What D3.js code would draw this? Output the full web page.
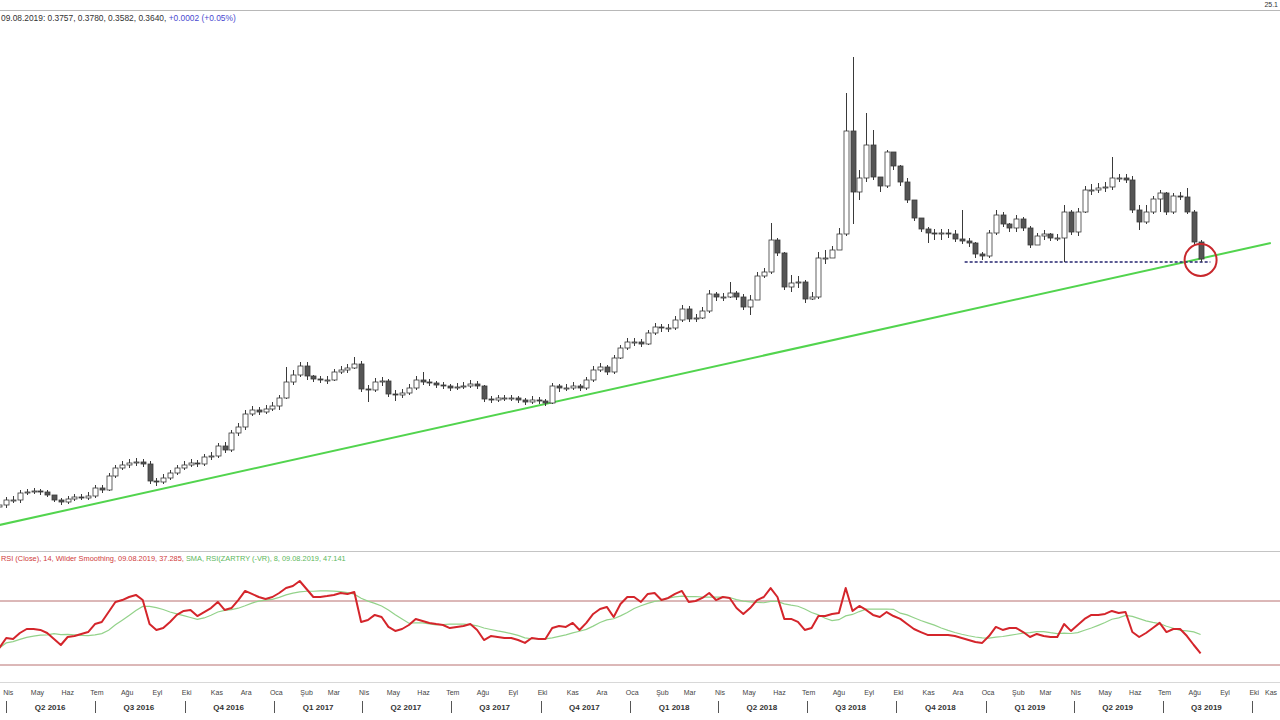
<!DOCTYPE html>
<html>
<head>
<meta charset="utf-8">
<script src="https://cdn.jsdelivr.net/npm/d3@7"></script>
<style>
  body { margin: 0; background: #fff; }
  svg { display: block; font-family: "Liberation Sans", Arial, sans-serif; }
</style>
</head>
<body>
<svg id="chart" width="1280" height="720"></svg>
<script>
// weekly candles, Friday dates starting 25.03.2016
const startDate = new Date(2016, 2, 25);
const firstOpen = 0.2465;

const closes = [
  0.2475, 0.2500, 0.2500, 0.2535, 0.2540, 0.2545, 0.2540, 0.2525, 0.2500, 0.2490,
  0.2505, 0.2515, 0.2510, 0.2520, 0.2560, 0.2550, 0.2620, 0.2660, 0.2675, 0.2685,
  0.2690, 0.2680, 0.2595, 0.2590, 0.2610, 0.2635, 0.2660, 0.2675, 0.2685, 0.2680,
  0.2715, 0.2720, 0.2770, 0.2750, 0.2835, 0.2865, 0.2930, 0.2950, 0.2940, 0.2955,
  0.2970, 0.3010, 0.3090, 0.3125, 0.3170, 0.3120, 0.3105, 0.3100, 0.3100, 0.3140,
  0.3150, 0.3160, 0.3180, 0.3055, 0.3050, 0.3090, 0.3095, 0.3030, 0.3025, 0.3035,
  0.3060, 0.3100, 0.3090, 0.3085, 0.3075, 0.3070, 0.3060, 0.3065, 0.3070, 0.3080,
  0.3070, 0.3005, 0.3000, 0.3010, 0.3010, 0.3010, 0.3000, 0.2990, 0.3000, 0.2995,
  0.2985, 0.3070, 0.3060, 0.3060, 0.3070, 0.3060, 0.3100, 0.3150, 0.3165, 0.3140,
  0.3210, 0.3260, 0.3290, 0.3290, 0.3280, 0.3335, 0.3365, 0.3360, 0.3360, 0.3400,
  0.3455, 0.3405, 0.3410, 0.3445, 0.3530, 0.3515, 0.3515, 0.3535, 0.3515, 0.3465,
  0.3500, 0.3620, 0.3640, 0.3800, 0.3735, 0.3565, 0.3585, 0.3590, 0.3505, 0.3515,
  0.3710, 0.3710, 0.3750, 0.3830, 0.4345, 0.4040, 0.4110, 0.4275, 0.4115, 0.4070,
  0.4240, 0.4170, 0.4090, 0.4000, 0.3910, 0.3855, 0.3835, 0.3830, 0.3835, 0.3830,
  0.3805, 0.3795, 0.3785, 0.3730, 0.3720, 0.3835, 0.3925, 0.3880, 0.3860, 0.3905,
  0.3860, 0.3775, 0.3820, 0.3830, 0.3810, 0.3810, 0.3940, 0.3840, 0.3940, 0.4050,
  0.4050, 0.4060, 0.4065, 0.4110, 0.4110, 0.4100, 0.3950, 0.3890, 0.3940, 0.4005,
  0.4035, 0.3940, 0.4020, 0.4015, 0.3940, 0.3790, 0.3705
];

const highs = [
  0.2500, 0.2515, 0.2520, 0.2550, 0.2555, 0.2560, 0.2555, 0.2550, 0.2525, 0.2510,
  0.2520, 0.2530, 0.2530, 0.2540, 0.2575, 0.2575, 0.2635, 0.2675, 0.2695, 0.2705,
  0.2710, 0.2705, 0.2695, 0.2610, 0.2630, 0.2650, 0.2675, 0.2695, 0.2705, 0.2700,
  0.2730, 0.2740, 0.2785, 0.2790, 0.2850, 0.2885, 0.2950, 0.2970, 0.2965, 0.2975,
  0.2990, 0.3025, 0.3165, 0.3150, 0.3190, 0.3190, 0.3125, 0.3120, 0.3120, 0.3155,
  0.3170, 0.3180, 0.3215, 0.3195, 0.3075, 0.3110, 0.3115, 0.3105, 0.3050, 0.3055,
  0.3080, 0.3120, 0.3140, 0.3105, 0.3095, 0.3090, 0.3080, 0.3085, 0.3090, 0.3100,
  0.3095, 0.3075, 0.3020, 0.3025, 0.3025, 0.3025, 0.3020, 0.3010, 0.3020, 0.3015,
  0.3005, 0.3085, 0.3080, 0.3080, 0.3090, 0.3080, 0.3115, 0.3170, 0.3185, 0.3175,
  0.3225, 0.3275, 0.3310, 0.3310, 0.3305, 0.3350, 0.3385, 0.3380, 0.3380, 0.3420,
  0.3475, 0.3470, 0.3430, 0.3465, 0.3550, 0.3540, 0.3535, 0.3590, 0.3545, 0.3530,
  0.3525, 0.3640, 0.3660, 0.3885, 0.3810, 0.3740, 0.3625, 0.3620, 0.3600, 0.3540,
  0.3740, 0.3750, 0.3770, 0.3860, 0.4535, 0.4715, 0.4150, 0.4435, 0.4350, 0.4100,
  0.4250, 0.4220, 0.4175, 0.4110, 0.4000, 0.3910, 0.3865, 0.3855, 0.3855, 0.3855,
  0.3850, 0.3950, 0.3810, 0.3790, 0.3740, 0.3850, 0.3950, 0.3940, 0.3885, 0.3925,
  0.3915, 0.3870, 0.3835, 0.3850, 0.3835, 0.3830, 0.3975, 0.3950, 0.3960, 0.4070,
  0.4080, 0.4085, 0.4090, 0.4215, 0.4130, 0.4130, 0.4120, 0.3975, 0.3975, 0.4020,
  0.4050, 0.4040, 0.4035, 0.4040, 0.4060, 0.3950, 0.3800
];

const lows = [
  0.2455, 0.2460, 0.2485, 0.2485, 0.2525, 0.2530, 0.2525, 0.2515, 0.2490, 0.2475,
  0.2480, 0.2495, 0.2500, 0.2500, 0.2510, 0.2535, 0.2545, 0.2610, 0.2650, 0.2660,
  0.2670, 0.2665, 0.2580, 0.2570, 0.2580, 0.2600, 0.2625, 0.2650, 0.2665, 0.2665,
  0.2670, 0.2700, 0.2710, 0.2735, 0.2740, 0.2820, 0.2850, 0.2920, 0.2925, 0.2930,
  0.2945, 0.2950, 0.3005, 0.3075, 0.3115, 0.3100, 0.3090, 0.3085, 0.3080, 0.3095,
  0.3130, 0.3135, 0.3155, 0.3040, 0.2990, 0.3040, 0.3070, 0.3015, 0.2995, 0.3010,
  0.3025, 0.3050, 0.3075, 0.3070, 0.3060, 0.3055, 0.3045, 0.3050, 0.3055, 0.3060,
  0.3055, 0.2990, 0.2985, 0.2990, 0.2995, 0.2995, 0.2985, 0.2975, 0.2980, 0.2980,
  0.2970, 0.2980, 0.3040, 0.3045, 0.3050, 0.3045, 0.3050, 0.3090, 0.3140, 0.3125,
  0.3130, 0.3205, 0.3250, 0.3270, 0.3265, 0.3275, 0.3325, 0.3340, 0.3340, 0.3350,
  0.3390, 0.3390, 0.3390, 0.3405, 0.3435, 0.3495, 0.3495, 0.3510, 0.3500, 0.3450,
  0.3425, 0.3500, 0.3610, 0.3630, 0.3720, 0.3550, 0.3540, 0.3560, 0.3485, 0.3500,
  0.3505, 0.3680, 0.3710, 0.3750, 0.3820, 0.3880, 0.4000, 0.4090, 0.4100, 0.4040,
  0.4060, 0.4150, 0.4070, 0.3985, 0.3895, 0.3840, 0.3785, 0.3800, 0.3800, 0.3810,
  0.3790, 0.3780, 0.3765, 0.3710, 0.3700, 0.3710, 0.3825, 0.3865, 0.3840, 0.3840,
  0.3845, 0.3760, 0.3785, 0.3800, 0.3795, 0.3795, 0.3690, 0.3825, 0.3820, 0.3935,
  0.4025, 0.4035, 0.4040, 0.4050, 0.4090, 0.4085, 0.3935, 0.3850, 0.3880, 0.3930,
  0.3940, 0.3925, 0.3930, 0.4000, 0.3930, 0.3775, 0.3690
];

// RSI(14) weekly and its 8-period SMA
const rsiValues = [
  40.6, 46.9, 46.3, 50.0, 52.5, 52.5, 51.9, 50.0, 46.3, 42.5,
  47.5, 48.1, 49.4, 50.6, 55.6, 56.9, 63.1, 69.4, 70.6, 72.5,
  73.8, 70.6, 55.6, 51.9, 53.1, 56.9, 61.3, 63.8, 64.4, 60.6,
  63.1, 65.6, 69.4, 64.4, 65.6, 70.6, 76.3, 74.4, 72.5, 71.3,
  72.5, 75.0, 78.1, 79.4, 82.5, 77.5, 72.5, 72.5, 73.1, 73.8,
  75.0, 74.4, 75.6, 56.9, 58.1, 61.3, 60.0, 53.8, 51.3, 52.5,
  55.0, 58.8, 57.5, 56.3, 55.6, 55.0, 53.1, 53.8, 54.4, 55.6,
  51.9, 45.6, 48.1, 47.5, 46.9, 46.9, 45.6, 43.8, 46.9, 46.3,
  46.3, 53.1, 54.4, 53.8, 56.3, 51.9, 56.3, 61.9, 65.0, 66.3,
  60.0, 68.1, 72.5, 72.5, 69.4, 74.4, 75.0, 70.6, 71.9, 74.4,
  76.3, 69.4, 70.0, 71.9, 75.0, 70.6, 72.5, 71.9, 65.6, 61.9,
  65.6, 70.6, 72.5, 78.1, 72.5, 58.8, 58.8, 56.9, 51.9, 53.1,
  60.6, 60.6, 61.9, 62.5, 78.1, 63.8, 66.9, 64.4, 61.3, 60.0,
  63.1, 60.6, 58.8, 55.6, 52.5, 50.6, 48.8, 48.8, 48.8, 48.8,
  48.1, 46.9, 45.6, 44.4, 43.8, 48.1, 53.8, 51.9, 53.1, 53.1,
  50.6, 47.5, 49.4, 48.1, 47.5, 47.5, 55.6, 51.3, 55.0, 58.8,
  61.3, 61.3, 61.9, 63.8, 62.5, 63.1, 50.6, 47.5, 50.0, 53.1,
  56.3, 50.6, 52.5, 52.5, 48.1, 42.5, 37.3
];

const smaValues = [
  40.6, 43.8, 44.6, 46.0, 47.3, 48.1, 48.7, 48.8, 49.6, 49.0,
  49.2, 48.9, 48.5, 48.3, 48.8, 49.6, 51.7, 55.1, 58.0, 61.0,
  64.1, 66.6, 66.6, 65.9, 64.7, 63.1, 62.0, 60.9, 59.7, 58.5,
  59.4, 61.1, 63.1, 64.1, 64.6, 65.5, 67.0, 68.7, 69.9, 70.6,
  71.0, 72.3, 73.8, 74.9, 75.7, 76.1, 76.1, 76.3, 76.3, 76.2,
  75.8, 75.2, 74.3, 71.7, 69.9, 68.5, 66.9, 64.4, 61.4, 58.7,
  56.1, 56.4, 56.3, 55.7, 55.1, 55.3, 55.5, 55.6, 55.6, 55.2,
  54.5, 53.1, 52.2, 51.3, 50.5, 49.6, 48.5, 47.0, 46.4, 46.5,
  46.3, 47.0, 47.9, 48.8, 50.1, 51.1, 52.3, 54.3, 56.6, 58.2,
  58.9, 60.7, 62.8, 65.3, 67.0, 68.5, 69.8, 70.3, 71.8, 72.6,
  73.1, 72.7, 72.8, 72.4, 72.4, 72.4, 72.5, 72.2, 70.9, 69.9,
  69.4, 69.2, 68.9, 69.8, 69.8, 68.2, 67.4, 66.7, 65.0, 62.8,
  61.3, 59.2, 57.8, 58.3, 60.7, 61.6, 63.4, 64.9, 64.9, 64.9,
  65.0, 64.8, 62.4, 61.3, 59.5, 57.8, 56.3, 54.9, 53.1, 51.6,
  50.3, 49.2, 48.3, 47.5, 46.9, 46.8, 47.4, 47.8, 48.5, 49.2,
  49.9, 50.2, 50.9, 50.9, 50.2, 49.6, 49.9, 49.7, 50.2, 51.7,
  53.1, 54.8, 56.6, 58.6, 59.5, 61.0, 60.4, 59.0, 57.6, 56.6,
  55.9, 54.2, 53.0, 51.6, 51.3, 50.7, 49.1
];
const rsiLevels = [70, 30];

// drawn objects
const trendDates = [new Date(2016, 2, 25), new Date(2019, 9, 20)];
const trendPrices = [0.2375, 0.3785];
const supportDates = [new Date(2018, 11, 10), new Date(2019, 7, 19)];
const supportPrice = 0.369;

const monthNames = ["Oca", "Şub", "Mar", "Nis", "May", "Haz", "Tem", "Ağu", "Eyl", "Eki", "Kas", "Ara"];

const svg = d3.select("#chart");
const W = 1280;

const dates = closes.map((c, i) => d3.timeDay.offset(startDate, 7 * i));
const opens = [firstOpen].concat(closes.slice(0, -1));
const candles = closes.map((c, i) => ({
  date: dates[i], open: opens[i], close: c, high: highs[i], low: lows[i]
}));

const x = d3.scaleTime()
  .domain([startDate, dates[dates.length - 1]])
  .range([-0.6, 1200.6]);
const y = d3.scaleLinear().domain([0.225, 0.495]).range([550, 10]);
const yRsi = d3.scaleLinear().domain([20, 100]).range([681, 553]);

// clip paths
const defs = svg.append("defs");
defs.append("clipPath").attr("id", "clipMain")
  .append("rect").attr("x", 0).attr("y", 11).attr("width", W).attr("height", 539);
defs.append("clipPath").attr("id", "clipRsi")
  .append("rect").attr("x", 0).attr("y", 552).attr("width", W).attr("height", 129);

// frame lines
svg.append("line").attr("x1", 0).attr("x2", W).attr("y1", 10.5).attr("y2", 10.5)
  .attr("stroke", "#b8b8b8");
svg.append("line").attr("x1", 0).attr("x2", W).attr("y1", 551.5).attr("y2", 551.5)
  .attr("stroke", "#c4c4c4");
svg.append("line").attr("x1", 0).attr("x2", W).attr("y1", 682.5).attr("y2", 682.5)
  .attr("stroke", "#d8d8d8");

// header texts
svg.append("text").attr("x", W - 2).attr("y", 7).attr("text-anchor", "end")
  .attr("font-size", 7).attr("fill", "#333").text("25.1");
const head = svg.append("text").attr("x", 1).attr("y", 21).attr("font-size", 8.4);
head.append("tspan").attr("fill", "#333").text("09.08.2019: 0.3757, 0.3780, 0.3582, 0.3640, ");
head.append("tspan").attr("fill", "#4a4ad0").text("+0.0002 (+0.05%)");

// main panel
const main = svg.append("g").attr("clip-path", "url(#clipMain)");

main.append("line")
  .attr("x1", x(trendDates[0])).attr("y1", y(trendPrices[0]))
  .attr("x2", x(trendDates[1])).attr("y2", y(trendPrices[1]))
  .attr("stroke", "#52d44e").attr("stroke-width", 2);

main.append("line")
  .attr("x1", x(supportDates[0])).attr("y1", y(supportPrice))
  .attr("x2", x(supportDates[1])).attr("y2", y(supportPrice))
  .attr("stroke", "#262670").attr("stroke-width", 1.5)
  .attr("stroke-dasharray", "3,2");

const bodyW = 5;
const cg = main.selectAll("g.candle").data(candles).enter()
  .append("g").attr("class", "candle");

cg.append("line")
  .attr("x1", d => Math.round(x(d.date)) + 0.5)
  .attr("x2", d => Math.round(x(d.date)) + 0.5)
  .attr("y1", d => y(d.high))
  .attr("y2", d => y(d.low))
  .attr("stroke", "#3a3a3a");

cg.append("rect")
  .attr("x", d => Math.round(x(d.date)) - bodyW / 2 + 0.5)
  .attr("y", d => y(Math.max(d.open, d.close)))
  .attr("width", bodyW)
  .attr("height", d => Math.max(1, Math.abs(y(d.open) - y(d.close))))
  .attr("fill", d => d.close >= d.open ? "#ffffff" : "#555555")
  .attr("stroke", "#3a3a3a")
  .attr("stroke-width", 0.8);

// marker circle on last candle
const last = candles[candles.length - 1];
main.append("circle")
  .attr("cx", x(last.date)).attr("cy", y(0.370)).attr("r", 16)
  .attr("fill", "none").attr("stroke", "#c8282d").attr("stroke-width", 2);

// RSI panel
const rsiG = svg.append("g").attr("clip-path", "url(#clipRsi)");

rsiG.selectAll("line.level").data(rsiLevels).enter()
  .append("line").attr("class", "level")
  .attr("x1", 0).attr("x2", W)
  .attr("y1", d => yRsi(d)).attr("y2", d => yRsi(d))
  .attr("stroke", "#b87070").attr("stroke-width", 1);

const smaLine = d3.line().x((d, i) => x(dates[i])).y(d => yRsi(d));
rsiG.append("path").datum(smaValues)
  .attr("d", smaLine).attr("fill", "none")
  .attr("stroke", "#93d28a").attr("stroke-width", 1.2);

rsiG.append("path").datum(rsiValues)
  .attr("d", smaLine).attr("fill", "none")
  .attr("stroke", "#d4252b").attr("stroke-width", 2)
  .attr("stroke-linejoin", "round");

const leg = svg.append("text").attr("x", 1).attr("y", 561).attr("font-size", 7.4);
leg.append("tspan").attr("fill", "#d03a3a")
  .text("RSI (Close), 14, Wilder Smoothing, 09.08.2019, 37.285, ");
leg.append("tspan").attr("fill", "#5cb85c")
  .text("SMA, RSI(ZARTRY (-VR), 8, 09.08.2019, 47.141");

// time axis
const months = d3.timeMonth.range(new Date(2016, 3, 1), new Date(2019, 11, 1));
svg.selectAll("text.month").data(months).enter()
  .append("text").attr("class", "month")
  .attr("x", d => Math.min(x(d) + 2, W - 9))
  .attr("y", 695)
  .attr("text-anchor", "middle")
  .attr("font-size", 7)
  .attr("fill", "#444")
  .text(d => monthNames[d.getMonth()]);

const quarters = d3.timeMonth.every(3).range(new Date(2016, 3, 1), new Date(2019, 9, 2));
svg.selectAll("line.qsep").data(quarters).enter()
  .append("line").attr("class", "qsep")
  .attr("x1", d => Math.round(x(d)) + 0.5).attr("x2", d => Math.round(x(d)) + 0.5)
  .attr("y1", 701).attr("y2", 713)
  .attr("stroke", "#555");

const quarterBlocks = d3.timeMonth.every(3).range(new Date(2016, 3, 1), new Date(2019, 7, 1));
svg.selectAll("text.quarter").data(quarterBlocks).enter()
  .append("text").attr("class", "quarter")
  .attr("x", d => x(d3.timeDay.offset(d, 45)))
  .attr("y", 710)
  .attr("text-anchor", "middle")
  .attr("font-size", 8)
  .attr("font-weight", "bold")
  .attr("fill", "#333")
  .text(d => "Q" + (Math.floor(d.getMonth() / 3) + 1) + " " + d.getFullYear());
</script>
</body>
</html>
